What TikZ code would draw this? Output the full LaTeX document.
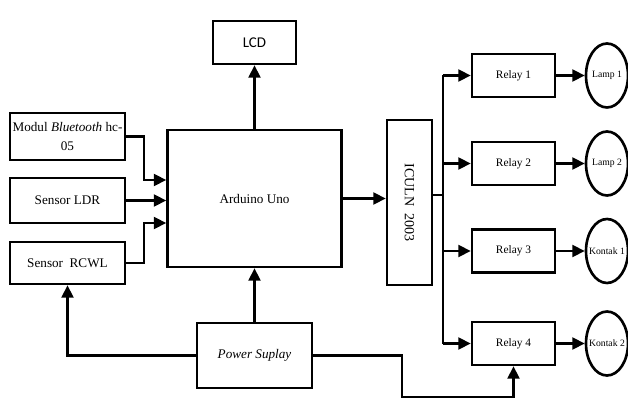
\documentclass[tikz,border=0pt]{standalone}
\usepackage{fontspec}
\setmainfont{Liberation Serif}
\newfontfamily\lcdfont{Carlito}
\usetikzlibrary{arrows.meta, calc, shapes.geometric}

\begin{document}
\begin{tikzpicture}[x=0.02cm, y=-0.02cm, >={Triangle[length=7pt,width=6.8pt]}, line width=1.2pt,
  blok/.style={draw, line width=1.5pt, align=center, inner sep=1pt, font=\fontsize{7.5}{11}\selectfont},
  relay/.style={blok, minimum width=1.66cm, minimum height=0.86cm, font=\fontsize{6.5}{7.5}\selectfont},
  beban/.style={draw, ellipse, line width=1.5pt, minimum width=0.84cm, minimum height=1.28cm,
    inner sep=0pt, label={[font=\fontsize{5.5}{6}\selectfont]center:#1}}]
  \useasboundingbox (0,0) rectangle (628,398);
  % blok input
  \node[blok, minimum width=2.3cm, minimum height=0.94cm] (bt) at (67.5,136.5)
    {Modul \textit{Bluetooth} hc-\\05};
  \node[blok, minimum width=2.3cm, minimum height=0.9cm] (ldr) at (67.5,200.5) {Sensor LDR};
  \node[blok, minimum width=2.3cm, minimum height=0.84cm] (rcwl) at (67.5,263) {Sensor\ \ RCWL};
  % mikrokontroler, LCD, catu daya
  \node[blok, minimum width=3.48cm, minimum height=2.74cm] (ard) at (254.5,198.5) {Arduino Uno};
  \node[blok, minimum width=1.66cm, minimum height=0.86cm, font=\lcdfont\fontsize{8.5}{10}\selectfont]
    (lcd) at (254.5,42.5) {LCD};
  \node[blok, minimum width=2.3cm, minimum height=1.3cm] (pw) at (254.5,355.5) {\textit{Power Suplay}};
  % driver
  \node[blok, minimum width=0.9cm, minimum height=3.3cm,
    label={[rotate=-90, font=\fontsize{8}{9}\selectfont]center:ICULN\ \ 2003}] (ic) at (409.5,202.5) {};
  % relay dan beban
  \node[relay] (r1) at (513.5,75.5) {Relay 1};
  \node[relay] (r2) at (513.5,163.5) {Relay 2};
  \node[relay] (r3) at (513.5,251) {Relay 3};
  \node[relay] (r4) at (513.5,343.5) {Relay 4};
  \node[beban=Lamp 1] (l1) at (607,75.5) {};
  \node[beban=Lamp 2] (l2) at (607,163.5) {};
  \node[beban=Kontak 1] (k1) at (607,251) {};
  \node[beban=Kontak 2] (k2) at (607,343.5) {};
  \coordinate (bus) at (443,195);
  \coordinate (pwturn) at (402,397);
  % sambungan
  \draw[->] (bt.east) -- ++(18,0) |- ($(ard.west)+(0,-18.5)$);
  \draw[->] (ldr.east) -- (ldr.east -| ard.west);
  \draw[->] (rcwl.east) -- ++(18,0) |- ($(ard.west)+(0,24.5)$);
  \draw[->] (ard.north) -- (lcd.south);
  \draw[->] (pw.north) -- (ard.south);
  \draw[->] (pw.west) -| (rcwl.south);
  \draw[->] (pw.east) -| (pwturn) -| (r4.south);
  \draw[->] (ard.east) -- (ard.east -| ic.west);
  \draw (ic.east |- bus) -- (bus);
  \draw (bus |- r1.west) -- (bus |- r4.west);
  \draw[->] (bus |- r1.west) -- (r1.west);
  \draw[->] (bus |- r2.west) -- (r2.west);
  \draw[->] (bus |- r3.west) -- (r3.west);
  \draw[->] (bus |- r4.west) -- (r4.west);
  \draw[->] (r1.east) -- (l1.west);
  \draw[->] (r2.east) -- (l2.west);
  \draw[->] (r3.east) -- (k1.west);
  \draw[->] (r4.east) -- (k2.west);
\end{tikzpicture}
\end{document}
